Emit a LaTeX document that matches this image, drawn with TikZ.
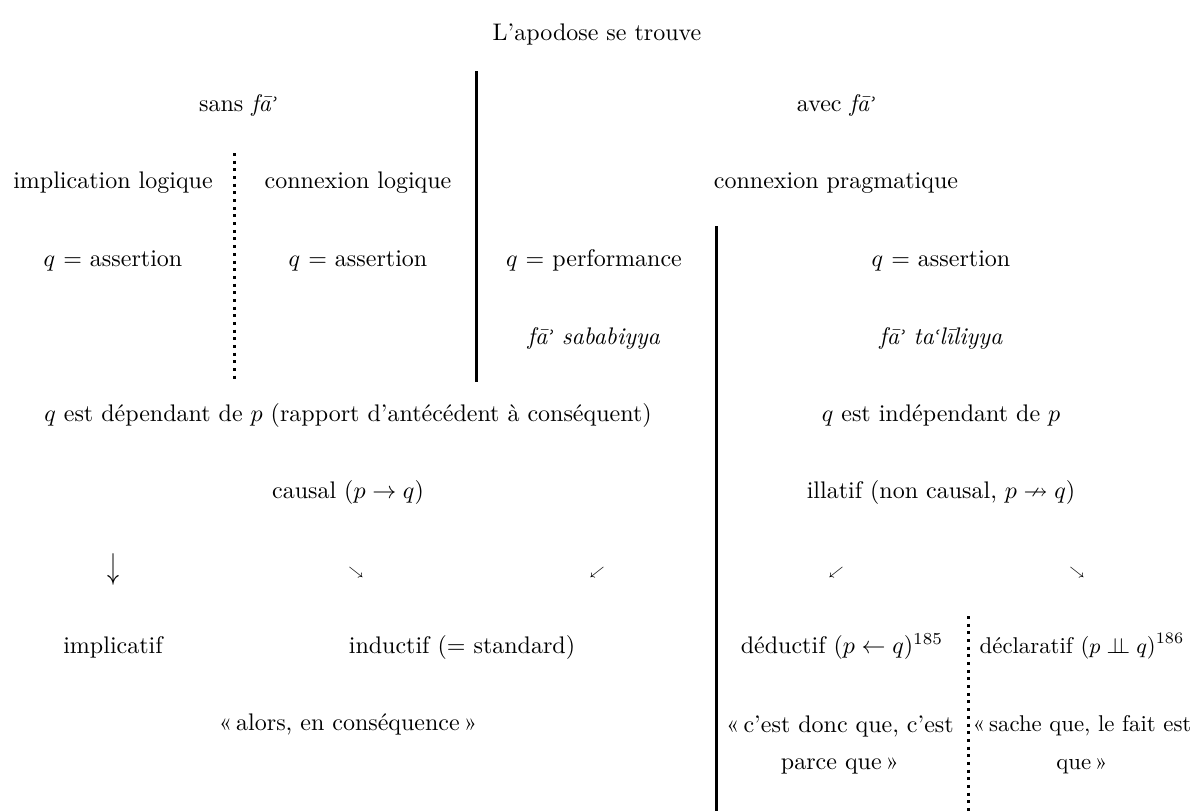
\documentclass[tikz,border=0pt]{standalone}
\usepackage{fontspec}
\usepackage{amssymb}
\usepackage{graphicx}
\newfontfamily\dvs{DejaVu Sans}
\newcommand{\hmz}{{\dvs\fontsize{8}{8}\selectfont ʾ}}
\newcommand{\ayn}{{\dvs\fontsize{8}{8}\selectfont ʿ}}
\newcommand{\fa}{\textit{fā\hmz}}
\begin{document}
\begin{tikzpicture}[x=0.41667pt,y=-0.41667pt,
  lbl/.style={anchor=base,inner sep=0pt,font=\normalsize},
  narrowlbl/.style={anchor=base,inner sep=0pt,font=\fontsize{9.5}{11.4}\selectfont},
  smallarrow/.style={anchor=center,inner sep=0pt,font=\tiny},
  bigarrow/.style={anchor=center,inner sep=0pt,font=\normalsize},
  twoline/.style={anchor=center,inner sep=0pt,align=center,font=\normalsize},
  narrowtwoline/.style={anchor=center,inner sep=0pt,align=center,font=\fontsize{9.5}{11.4}\selectfont},
  thickrule/.style={line width=1.25pt},
  dotrule/.style={line width=1.25pt,dash pattern=on 1.25pt off 1.95pt}
]
\useasboundingbox (0,0) rectangle (1195,811);
% separators
\coordinate (s1a) at (476,71);  \coordinate (s1b) at (476,382);
\coordinate (d1a) at (234,153); \coordinate (d1b) at (234,380);
\coordinate (s2a) at (716,226); \coordinate (s2b) at (716,811);
\coordinate (d2a) at (968,616); \coordinate (d2b) at (968,811);
\draw[thickrule] (s1a) -- (s1b);
\draw[thickrule] (s2a) -- (s2b);
\draw[dotrule] (d1a) -- (d1b);
\draw[dotrule] (d2a) -- (d2b);
% texts
\node[lbl] (title) at (597,40) {L’apodose se trouve};
\node[lbl] (sans) at (238,111) {sans \fa};
\node[lbl] (avec) at (836,111) {avec \fa};
\node[lbl] (impl) at (113,188) {implication logique};
\node[lbl] (connl) at (358,188) {connexion logique};
\node[lbl] (connp) at (836,188) {connexion pragmatique};
\node[lbl] (qa1) at (113,266) {$q$ = assertion};
\node[lbl] (qa2) at (358,266) {$q$ = assertion};
\node[lbl] (qperf) at (594,266) {$q$ = performance};
\node[lbl] (qa3) at (941,266) {$q$ = assertion};
\node[lbl] (fsab) at (594,344) {\textit{fā\hmz{} sababiyya}};
\node[lbl] (ftal) at (941,344) {\textit{fā\hmz{} ta\ayn līliyya}};
\node[lbl] (qdep) at (348,421) {$q$ est dépendant de $p$ (rapport d’antécédent à conséquent)};
\node[lbl] (qind) at (941,421) {$q$ est indépendant de $p$};
\node[lbl] (causal) at (348,498) {causal ($p \rightarrow q$)};
\node[lbl] (illatif) at (941,498) {illatif (non causal, $p \nrightarrow q$)};
\node[bigarrow] (ar1) at (113,569) {\scalebox{1}[1.5]{$\downarrow$}};
\node[smallarrow] (ar2) at (356,572) {$\searrow$};
\node[smallarrow] (ar3) at (597,572) {$\swarrow$};
\node[smallarrow] (ar4) at (836,572) {$\swarrow$};
\node[smallarrow] (ar5) at (1077,572) {$\searrow$};
\node[lbl] (implicatif) at (113,653) {implicatif};
\node[lbl] (inductif) at (462,653) {inductif (= standard)};
\node[lbl] (deductif) at (842,653) {déductif ($p \leftarrow q$)\textsuperscript{185}};
\node[narrowlbl] (declaratif) at (1082,653) {déclaratif ($p \mathrel{\perp\!\!\!\perp} q$)\textsuperscript{186}};
\node[lbl] (alors) at (348,730) {«\,alors, en conséquence\,»};
\node[twoline] (cestdonc) at (840,745) {«\,c’est donc que, c’est\\[3.8pt]parce que\,»};
\node[narrowtwoline] (sache) at (1082,745) {«\,sache que, le fait est\\[4.4pt]que\,»};
\end{tikzpicture}
\end{document}
